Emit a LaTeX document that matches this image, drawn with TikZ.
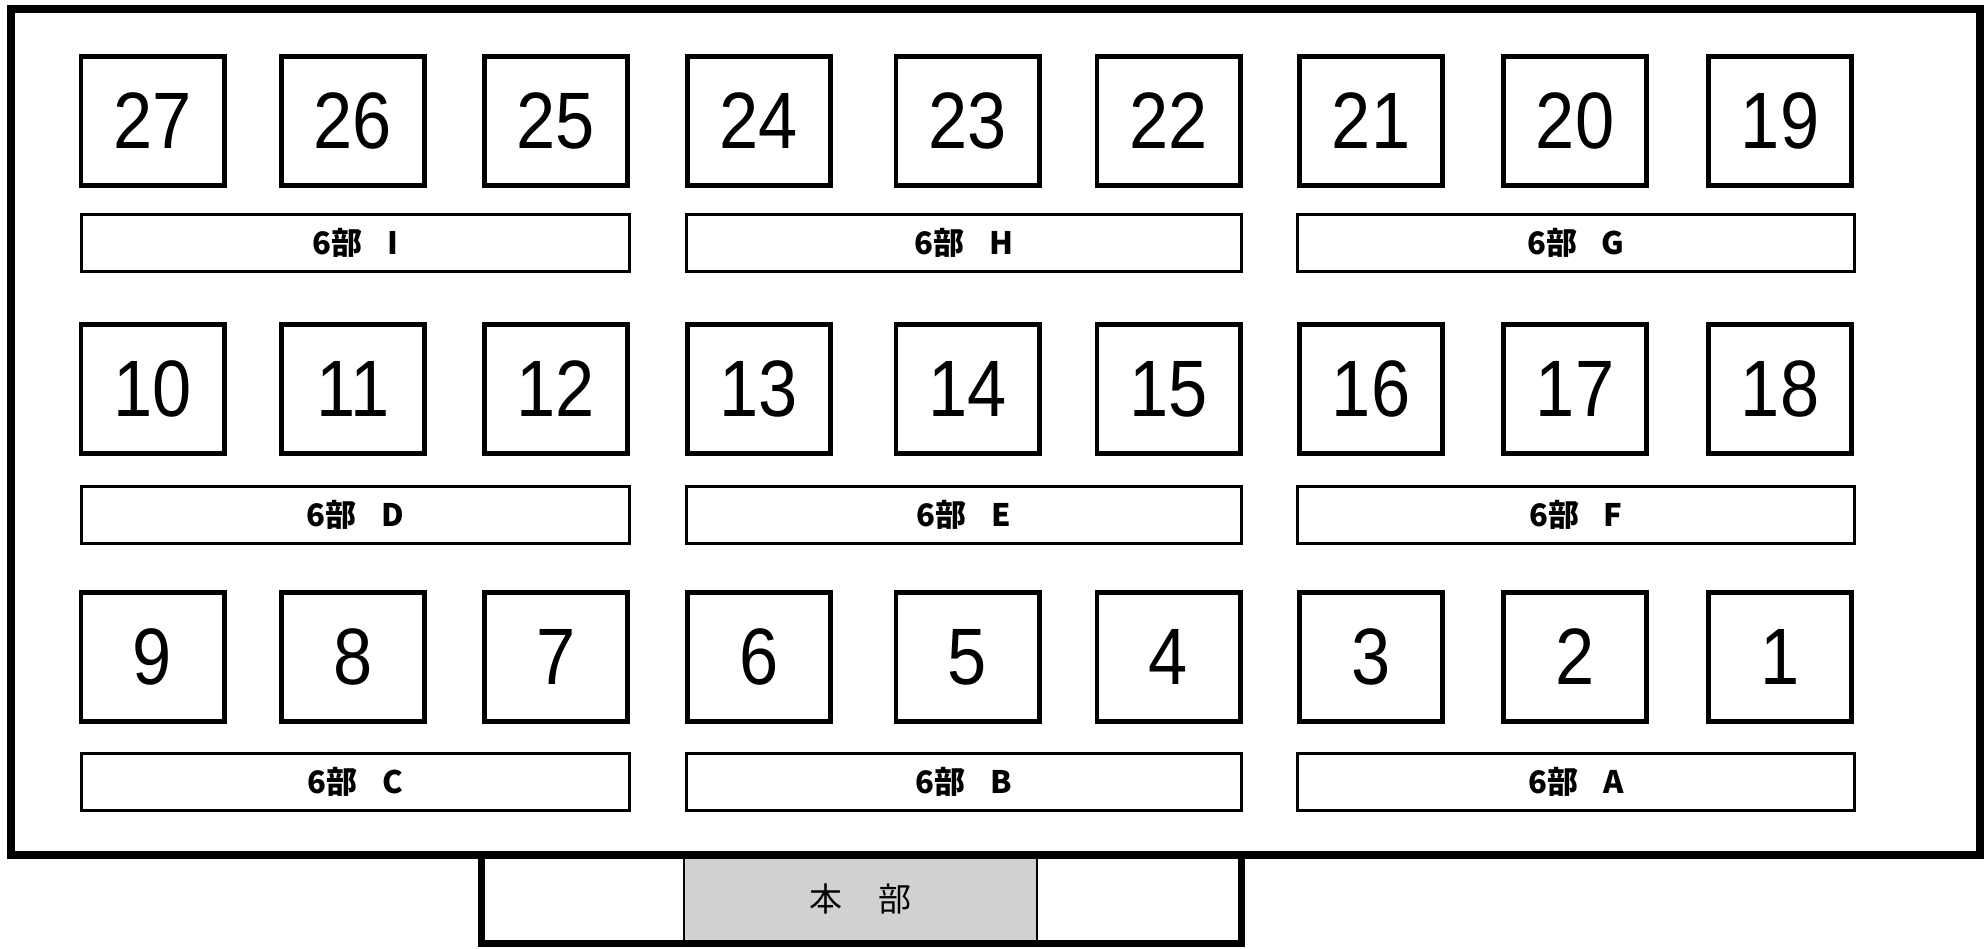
\documentclass[tikz,border=0pt]{standalone}
\usepackage{fontspec}
\usepackage{graphicx}
\setmainfont{Liberation Sans}
\newfontfamily\cjk{Noto Sans CJK JP}
\newcommand\bnum[1]{\scalebox{0.88}[1]{#1}}
\begin{document}
\begin{tikzpicture}[x=0.5pt,y=-0.5pt,
  numbox/.style={draw,line width=2.3pt,minimum width=71.7pt,minimum height=64.7pt,inner sep=0pt,
    font=\fontsize{40}{40}\selectfont},
  barbox/.style={draw,line width=1.5pt,minimum height=28.5pt,inner sep=0pt,
    font=\cjk\bfseries\fontsize{15.5}{15.5}\selectfont},
  hqbox/.style={draw,line width=1pt,fill=black!18,minimum width=176.5pt,minimum height=44pt,inner sep=0pt,
    font=\cjk\fontsize{16.5}{16.5}\selectfont}]
\useasboundingbox (0,0) rectangle (1987,948);
% headquarters annex
\node[hqbox] (honbu) at (860.5,899) {本\hspace{1.1em}部};
\coordinate (wl) at (481.5,855);
\coordinate (wr) at (1241.5,855);
\coordinate (wb) at (1241.5,943.5);
\draw[line width=3.5pt] (wl) |- (wb) -- (wr);
% hall frame
\node[draw,line width=4pt,minimum width=984.5pt,minimum height=423pt,inner sep=0pt] (hall) at (995.5,432) {};
% booths
\foreach \cx [count=\i] in {152.5,353,556,759,967.5,1168.5,1371,1575,1780} {
  \pgfmathtruncatemacro\na{28-\i}
  \pgfmathtruncatemacro\nb{9+\i}
  \pgfmathtruncatemacro\nc{10-\i}
  \node[numbox] (b\na) at (\cx,121) {\bnum{\na}};
  \node[numbox] (b\nb) at (\cx,389) {\bnum{\nb}};
  \node[numbox] (b\nc) at (\cx,657) {\bnum{\nc}};
}
% section bars
\node[barbox,minimum width=274pt]   (secI) at (355.5,243)   {6部\hspace{0.8em}I};
\node[barbox,minimum width=277.5pt] (secH) at (964,243)     {6部\hspace{0.8em}H};
\node[barbox,minimum width=278.5pt] (secG) at (1576,243)    {6部\hspace{0.8em}G};
\node[barbox,minimum width=274pt]   (secD) at (355.5,514.5) {6部\hspace{0.8em}D};
\node[barbox,minimum width=277.5pt] (secE) at (964,514.5)   {6部\hspace{0.8em}E};
\node[barbox,minimum width=278.5pt] (secF) at (1576,514.5)  {6部\hspace{0.8em}F};
\node[barbox,minimum width=274pt]   (secC) at (355.5,781.5) {6部\hspace{0.8em}C};
\node[barbox,minimum width=277.5pt] (secB) at (964,781.5)   {6部\hspace{0.8em}B};
\node[barbox,minimum width=278.5pt] (secA) at (1576,781.5)  {6部\hspace{0.8em}A};
\end{tikzpicture}
\end{document}
